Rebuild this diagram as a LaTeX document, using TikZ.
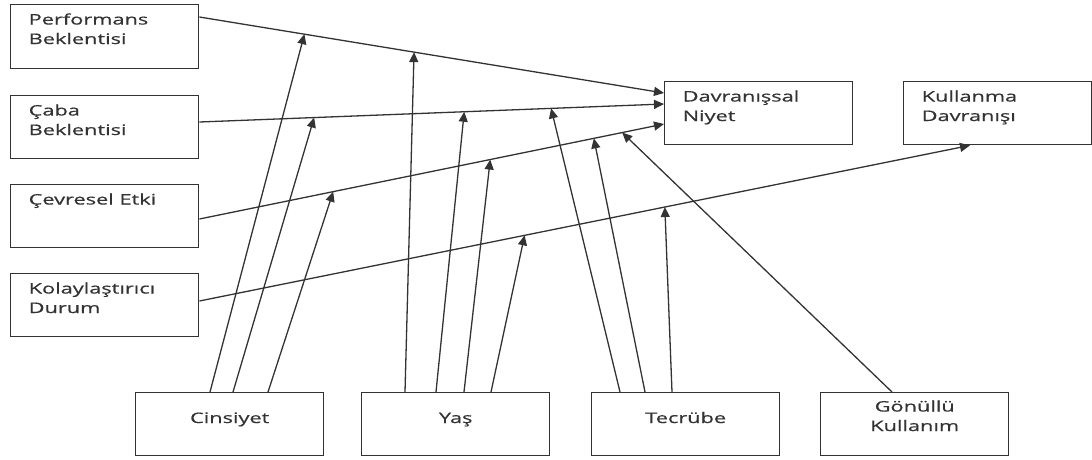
\documentclass[tikz,border=0pt]{standalone}
\usepackage{fontspec}
\setmainfont{Open Sans}[FakeStretch=1.5,FakeBold=0.6]
\usetikzlibrary{arrows.meta}
\definecolor{ink}{gray}{0.2}

\begin{document}
\begin{tikzpicture}[x=1pt,y=-1pt,
  box/.style={draw=ink, line width=1.4pt, minimum width=188pt, minimum height=63pt,
              inner sep=0pt, anchor=north west},
  txt/.style={text=ink, font=\fontsize{14.5}{19.5}\selectfont, inner sep=0pt,
              align=left, anchor=base west},
  ctxt/.style={txt, align=center, anchor=base},
  link/.style={draw=ink, line width=1.3pt, -{Triangle[length=10pt,width=9pt]}}]

\useasboundingbox (0,0) rectangle (1092,459);

% construct boxes
\node[box, minimum height=64pt] (pe) at (10,4) {};
\node[box] (cb) at (10,95) {};
\node[box] (ce) at (10,184) {};
\node[box] (ko) at (10,273) {};
\node[box] (dn) at (664,81) {};
\node[box] (kd) at (903,81) {};

% moderator boxes
\node[box] (ci) at (135,392) {};
\node[box] (ya) at (361,392) {};
\node[box] (te) at (591,392) {};
\node[box] (go) at (820,392) {};

% box texts (base anchor sits on the last line)
\node[txt] (pe-t) at ([shift={(18.5,40)}]pe.north west) {Performans\\Beklentisi};
\node[txt] (cb-t) at ([shift={(18.5,40)}]cb.north west) {Çaba\\Beklentisi};
\node[txt] (ce-t) at ([shift={(18.5,20.5)}]ce.north west) {Çevresel Etki};
\node[txt] (ko-t) at ([shift={(18.5,40)}]ko.north west) {Kolaylaştırıcı\\Durum};
\node[txt] (dn-t) at ([shift={(18.5,40)}]dn.north west) {Davranışsal\\Niyet};
\node[txt] (kd-t) at ([shift={(18.5,40)}]kd.north west) {Kullanma\\Davranışı};
\node[ctxt] (ci-t) at ([yshift=-31pt]ci.north) {Cinsiyet};
\node[ctxt] (ya-t) at ([yshift=-31pt]ya.north) {Yaş};
\node[ctxt] (te-t) at ([yshift=-31pt]te.north) {Tecrübe};
\node[ctxt] (go-t) at ([yshift=-39pt]go.north) {Gönüllü\\Kullanım};

% direct effects
\draw[link] ([yshift=-13pt]pe.north east) --
  coordinate[pos=.226] (pe-ci) coordinate[pos=.462] (pe-ya)
  ([yshift=-12pt]dn.north west);
\draw[link] ([yshift=-27pt]cb.north east) --
  coordinate[pos=.247] (cb-ci) coordinate[pos=.570] (cb-ya) coordinate[pos=.757] (cb-te)
  ([yshift=-23pt]dn.north west);
\draw[link] ([yshift=-35pt]ce.north east) --
  coordinate[pos=.288] (ce-ci) coordinate[pos=.626] (ce-ya) coordinate[pos=.849] (ce-te)
  coordinate[pos=.910] (ce-go)
  ([yshift=-43pt]dn.north west);
\draw[link] ([yshift=-28pt]ko.north east) --
  coordinate[pos=.422] (ko-ya) coordinate[pos=.604] (ko-te)
  ([xshift=67pt]kd.south west);

% moderating effects
\draw[link] ([xshift=75pt]ci.north west) -- (pe-ci);
\draw[link] ([xshift=98pt]ci.north west) -- (cb-ci);
\draw[link] ([xshift=133pt]ci.north west) -- (ce-ci);

\draw[link] ([xshift=44pt]ya.north west) -- (pe-ya);
\draw[link] ([xshift=75pt]ya.north west) -- (cb-ya);
\draw[link] ([xshift=103pt]ya.north west) -- (ce-ya);
\draw[link] ([xshift=130pt]ya.north west) -- (ko-ya);

\draw[link] ([xshift=29pt]te.north west) -- (cb-te);
\draw[link] ([xshift=54pt]te.north west) -- (ce-te);
\draw[link] ([xshift=81pt]te.north west) -- (ko-te);

\draw[link] ([xshift=72pt]go.north west) -- (ce-go);

\end{tikzpicture}
\end{document}
